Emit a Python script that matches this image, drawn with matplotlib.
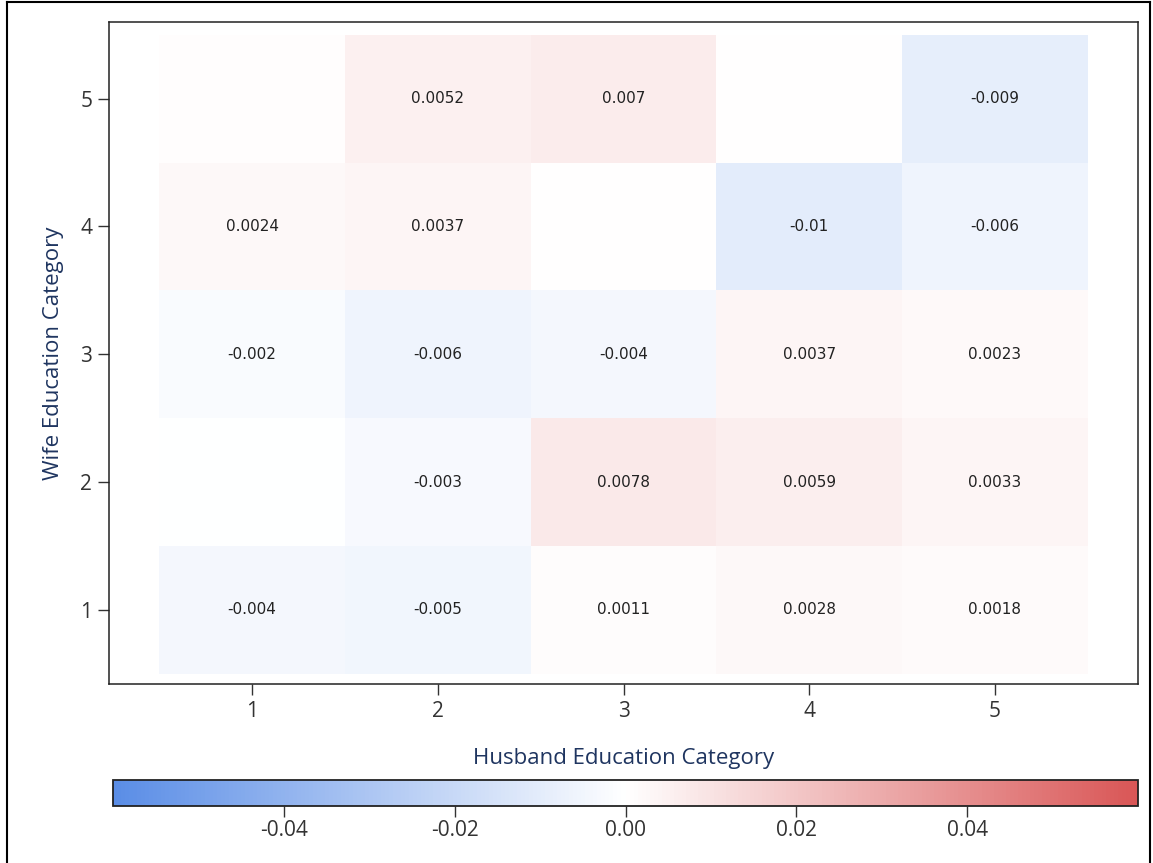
import matplotlib.pyplot as plt
import numpy as np
from matplotlib.colors import LinearSegmentedColormap
from matplotlib.lines import Line2D

# husband category (x) and wife category (y)
husband = [1, 2, 3, 4, 5]
wife = [1, 2, 3, 4, 5]

# rows are wife category 1..5, columns husband category 1..5
values = [
    [-0.004, -0.005, 0.0011, 0.0028, 0.0018],
    [-0.0003, -0.003, 0.0078, 0.0059, 0.0033],
    [-0.002, -0.006, -0.004, 0.0037, 0.0023],
    [0.0024, 0.0037, 0.0001, -0.01, -0.006],
    [0.0008, 0.0052, 0.007, 0.0, -0.009],
]
labels = [
    ['-0.004', '-0.005', '0.0011', '0.0028', '0.0018'],
    ['', '-0.003', '0.0078', '0.0059', '0.0033'],
    ['-0.002', '-0.006', '-0.004', '0.0037', '0.0023'],
    ['0.0024', '0.0037', '', '-0.01', '-0.006'],
    ['', '0.0052', '0.007', '', '-0.009'],
]
cbar_ticks = [-0.04, -0.02, 0.0, 0.02, 0.04]
vlim = 0.06

plt.rcParams['font.family'] = ['Open Sans', 'DejaVu Sans']
cmap = LinearSegmentedColormap.from_list('bwr_sas', ['#5a8de6', '#ffffff', '#d95656'])

fig = plt.figure(figsize=(11.53, 8.63), dpi=100)
ax = fig.add_axes([109/1153, 1-684/863, (1138-109)/1153, (684-22)/863])
cax = fig.add_axes([113/1153, 1-806/863, (1138-113)/1153, 26/863])

X, Y = np.meshgrid(np.arange(0.5, 6.0, 1.0), np.arange(0.5, 6.0, 1.0))
mesh = ax.pcolormesh(X, Y, np.array(values), cmap=cmap, vmin=-vlim, vmax=vlim)

for i, w in enumerate(wife):
    for j, h in enumerate(husband):
        if labels[i][j]:
            ax.text(h, w, labels[i][j], ha='center', va='center', fontsize=11,
                    color='#222222', family=['DejaVu Sans'])

ax.set_xlim(0.23, 5.77)
ax.set_ylim(0.42, 5.6)
ax.set_xticks(husband)
ax.set_yticks(wife)
ax.tick_params(length=8, width=1, color='#333333', labelsize=15, labelcolor='#333333', pad=4)
for s in ax.spines.values():
    s.set_linewidth(1.1)
    s.set_color('#222222')
ax.set_xlabel('Husband Education Category', fontsize=16, color='#1f3560', labelpad=19)
ax.set_ylabel('Wife Education Category', fontsize=16, color='#1f3560', labelpad=12)

cb = fig.colorbar(mesh, cax=cax, orientation='horizontal')
cb.set_ticks(cbar_ticks)
cb.set_ticklabels(['%.2f' % t for t in cbar_ticks])
cax.tick_params(length=8, width=1, color='#333333', labelsize=15, labelcolor='#333333', pad=2)
cb.outline.set_linewidth(1.3)
cb.outline.set_edgecolor('#222222')

# outer frame around the picture
for xs, ys in [([7/1153, 7/1153], [0, 1-2/863]), ([7/1153, 1150/1153], [1-2/863, 1-2/863]),
               ([1150/1153, 1150/1153], [0, 1-2/863])]:
    fig.add_artist(Line2D(xs, ys, color='black', linewidth=1.5, transform=fig.transFigure))

fig.savefig('out.png', dpi=100)
